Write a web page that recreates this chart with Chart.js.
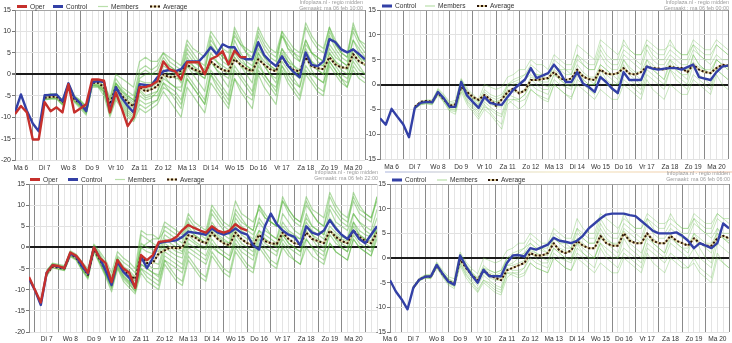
<!DOCTYPE html>
<html>
<head>
<meta charset="utf-8">
<script src="https://cdn.jsdelivr.net/npm/chart.js@4.4.1/dist/chart.umd.min.js"></script>
<style>
  html, body { margin: 0; padding: 0; background: #fff; width: 732px; height: 343px; overflow: hidden; }
  body { position: relative; }
  canvas { position: absolute; }
</style>
</head>
<body>
<canvas id="runA" width="372" height="172" style="left:0;top:0"></canvas>
<canvas id="runB" width="368" height="172" style="left:364px;top:0"></canvas>
<canvas id="runC" width="380" height="173" style="left:0;top:170px"></canvas>
<canvas id="runD" width="360" height="173" style="left:372px;top:170px"></canvas>
<script>
// ---------- axis labels ----------
const dayLabels = ['Ma 6','Di 7','Wo 8','Do 9','Vr 10','Za 11','Zo 12','Ma 13','Di 14','Wo 15','Do 16','Vr 17','Za 18','Zo 19','Ma 20','Di 21'];
const stepHours = 6;          // time step of every series
const memberStartHour = 36;   // ensemble members and mean start at Di 7 12:00

// ---------- run A: 10:00 run (oper, control, 12 members) ----------
const runAStart = 6;
const runAOper = [-9.3,-7.4,-8.9,-15.2,-15.2,-6.5,-8.6,-7.7,-8.9,-2.3,
  -8.9,-8.0,-7.0,-1.2,-1.2,-1.5,-8.9,-4.2,-8.0,-12.1,
  -10.0,-3.0,-3.0,-2.5,-1.6,3.0,1.2,0.7,-1.2,2.8,
  2.8,2.8,0.0,3.5,4.2,5.4,2.3,5.5,4.0,4.0];
const runAControl = [-8.9,-4.7,-8.5,-11.5,-13.3,-4.9,-4.8,-4.7,-6.3,-2.1,
  -5.4,-6.8,-8.6,-1.9,-1.6,-1.8,-8.6,-3.0,-5.5,-7.4,
  -8.9,-2.3,-2.5,-2.6,-0.7,0.7,1.0,0.7,1.2,3.0,
  3.0,3.0,4.5,6.3,4.7,7.0,6.3,6.3,4.0,3.5,
  3.5,7.5,4.5,3.0,1.9,4.2,2.0,0.5,-0.7,5.1,
  2.2,1.9,3.0,8.2,7.5,5.8,5.1,5.8,4.7,3.5];
const runAAverage = [-5.5,-5.3,-5.2,-6.5,-2.5,-5.8,-6.8,-8.0,-2.0,-2.0,
  -3.0,-7.0,-3.0,-5.0,-6.5,-7.5,-3.0,-4.0,-3.5,-2.8,
  0.0,-0.7,-0.5,1.0,2.3,1.2,0.7,0.2,3.0,1.9,
  1.0,0.7,3.5,2.3,1.3,0.7,3.5,2.3,1.2,0.7,
  4.2,2.0,1.0,0.7,4.0,1.9,1.4,1.2,4.0,2.3,
  1.6,1.5,4.7,3.0,2.3];
const runAMembers = [
  [-5,-4.5,-4.6,-6,-2,-5,-6,-7.5,-1.5,-1.5,-2,-6,-1,-3,-4,-5,1,2,1, 2,5,3,2,1,7,5,3,2,9,6,4,3,10,7,5,4,9,6,4,3,10,6,5,4,11,8,6,5,11,7,5,4,10,7,5],
  [-5.8,-5.6,-5.5,-7,-2.8,-6,-7,-8.5,-2.5,-2.5,-3.5,-8,-2,-4,-5,-6,-1,0,0, 0,3,2,1,0,5,3,2,1,7,5,3,2,8,5,3,2,6,4,3,2,9,6,4,3,8,5,4,3,9,6,4,3,8,6,4],
  [-5.2,-5,-5,-6.8,-3,-6.2,-7.5,-9,-2.5,-2.8,-4,-9,-5,-7,-9,-10,-6,-7,-6.5, -6,-3,-4,-5,-7,-1,-3,-5,-7,0,-2,-4,-6,1,-1,-3,-5,2,0,-2,-4,3,1,-1,-3,2,0,-1,-2,4,2,0,-1,3,1,0],
  [-6,-5.8,-5.8,-7.2,-3.2,-6.5,-8,-9.5,-3,-3,-5,-10,-6,-8,-10,-11,-8,-9,-8, -7,-4,-6,-8,-10,-3,-5,-7,-9,-2,-4,-6,-8,-1,-4,-6,-8,0,-3,-5,-7,1,-2,-4,-6,0,-2,-4,-5,2,0,-2,-3,1,-1,-2],
  [-5.5,-5.2,-5,-6.4,-2.4,-5.6,-6.6,-8,-1.8,-1.8,-2.8,-7,-2.5,-4.5,-6,-7,-2.5,-3.5,-3, -2,1,0,-1,-1,3,2,1,0,4,3,2,1,5,3,2,1,5,3,2,1,6,3,2,1,5,3,2,2,6,4,3,2,6,4,3],
  [-5.3,-5.4,-5.3,-6.6,-2.6,-5.7,-7,-8.2,-2.2,-2.1,-3.2,-7.5,-3.5,-5.5,-7,-8,-3.5,-5,-4.5, -4,-1,-2,-3,-3,2,1,0,-1,3,1,0,-1,4,2,1,0,4,2,0,-1,5,3,1,0,4,2,1,0,5,3,2,1,5,3,2],
  [-4.8,-4.8,-4.9,-6.1,-2.2,-5.3,-6.5,-7.8,-1.6,-1.7,-2.6,-6.5,-2,-3.5,-5,-6,0,1,0, 1,4,2,1,0,6,4,2,1,8,6,4,3,11,8,5,3,10,7,5,4,9,7,5,3,8,5,4,3,10,7,5,4,12,8,6],
  [-5.6,-5.5,-5.4,-6.7,-2.7,-5.9,-7.2,-8.6,-2.4,-2.4,-3.5,-8.2,-4,-6,-8,-9,-4,-5.5,-5, -5,-2,-3,-4,-6,0,-2,-4,-6,1,-1,-3,-5,2,0,-2,-4,3,0,-2,-3,2,0,-2,-3,4,1,-1,-2,3,1,-1,-2,4,2,0],
  [-5.4,-5.1,-5.1,-6.3,-2.3,-5.5,-6.4,-7.6,-1.7,-1.9,-2.7,-6.8,-2.2,-4,-5.5,-6.5,-1.5,-2,-2, -1,2,1,0,-2,4,2,0,-1,5,3,1,0,6,4,2,1,7,4,2,1,6,4,2,0,7,5,3,2,7,5,3,2,8,5,3],
  [-5.7,-5.4,-5.2,-6.6,-2.6,-6.1,-7.4,-8.8,-2.6,-2.6,-3.8,-8.5,-4.5,-6.5,-8.5,-9.5,-5,-6,-5.5, -4,0,-2,-3,-4,2,0,-2,-4,3,1,-1,-3,4,2,0,-2,5,2,0,-2,4,2,0,-1,6,3,1,0,5,3,1,0,6,4,2],
  [-5,-4.7,-4.8,-6.2,-2.1,-5.2,-6.2,-7.4,-1.4,-1.3,-1.8,-5.5,0,-1,-2,-3,3,4,3, 3,5,4,3,2,8,6,5,4,10,8,6,5,9,7,6,5,11,8,6,5,10,8,6,5,12,9,7,6,11,8,6,5,11,8,7],
  [-5.9,-5.7,-5.6,-7,-3,-6.3,-7.6,-9.2,-2.8,-2.9,-4.2,-9.5,-5.5,-7.5,-9.5,-10.5,-7,-8,-7, -6,-2,-4,-6,-8,-1,-3,-5,-7,0,-3,-5,-7,-1,-3,-5,-6,1,-1,-3,-5,2,-1,-3,-5,1,-1,-3,-4,3,1,-1,-3,2,0,-1]
];

// ---------- run B: 00:00 run (control, 10 members) ----------
const runBStart = 0;
const runBControl = [-6.8,-8.1,-4.9,-6.5,-8.0,-10.6,-4.7,-3.7,-3.5,-3.6,
  -1.5,-2.8,-4.5,-4.5,0.5,-2.2,-3.5,-4.7,-2.5,-3.7,
  -4.0,-4.1,-2.5,-1.0,0.0,1.0,3.3,1.3,1.8,2.3,
  4.0,2.5,0.5,0.5,2.5,0.2,-0.5,-1.5,1.5,0.5,
  -0.8,-1.7,2.5,0.9,0.9,0.9,3.6,3.2,3.0,3.2,
  3.3,3.3,3.0,3.5,4.0,1.5,1.2,0.9,2.5,3.6,
  3.8];
const runBAverage = [-4.5,-3.5,-3.3,-3.5,-1.7,-3.0,-4.3,-4.0,-0.5,-1.5,
  -2.5,-3.1,-2.1,-3.0,-4.3,-3.0,-1.5,-0.8,-1.8,-1.2,
  0.9,0.9,1.1,1.3,2.5,1.3,0.9,1.2,3.0,1.6,
  1.1,0.9,3.0,2.2,2.0,2.3,3.3,2.2,2.0,2.5,
  3.6,3.3,3.2,3.0,3.6,3.3,3.3,2.5,4.0,3.0,
  2.5,2.3,3.3,4.0,3.8];
const runBMembers = [
  [-4.5,-3.5,-3.2,-3.3,-1.0,-2.2,-3.8,-3.6,1.0,-1.2,-2.5,-3.5, -1,-2,-2.5,-2,0,1,1.5,2, 4,3,2,2,5,4,3,3,6,5,4,4,8,6,5,5,9,7,6,6,8,7,6,6,9,7,6,6,8,7,6,6,8,7,6],
  [-4.9,-4.0,-3.8,-4.0,-2.0,-3.5,-5.2,-5.5,-1.0,-3.5,-5,-6.5, -4,-5.5,-7,-8,-3,-4,-5,-4, -1,-2,-3,-3.5,0,-1,-2,-3,1,0,-1,-2,2,0,-1,-2,1,0,-1,-2,2,1,0,-1,3,1,0,-1,2,1,0,-1,3,2,1],
  [-4.6,-3.6,-3.4,-3.5,-1.4,-2.9,-4.3,-4.2,-0.2,-1.8,-2.8,-3.5, -2,-3,-3.5,-3,-1,-1.5,-1.5,-1, 1.5,1,0.5,0.5,3,2,1,1,4,2.5,1.5,1.5,4,3,2,2,5,3.5,2.5,2.5,5,4,3,3,5,4,3,3,4.5,3.5,3,3,5,4,3.5],
  [-4.4,-3.4,-3.1,-3.1,-0.8,-2,-3.5,-3.2,1.2,-0.8,-2,-3, 0,-0.5,-1,-0.5,1.5,2,3,3, 5,4,4,3,6,5,4,4,8,7,6,5,9,8,7,6,8,7,6,6,9,8,7,7,8,7,6,6,9,8,7,7,9,8,7],
  [-4.8,-3.9,-3.7,-3.8,-1.8,-3.2,-4.8,-5,-0.5,-2.8,-4.2,-5.5, -3.5,-4.5,-5.5,-6,-2,-2.5,-3,-2, 0,-1,-1.5,-2,1,0,-0.5,-1,2,1,0,0,3,1,0,0,2,1,0,-1,3,2,1,0,3,2,1,0,4,2,1,0,3,2,1],
  [-4.6,-3.6,-3.3,-3.4,-1.2,-2.5,-4,-3.9,0.8,-1.5,-2.8,-4, -1.5,-2.5,-3,-2.5,-0.5,0,0.5,1, 3,2,1.5,1,4,3,2,2,5,4,3,3,6,4,3,3,6,5,4,3,7,5,4,4,6,5,4,4,7,6,5,4,6,5,5],
  [-5,-4.1,-3.9,-4.1,-2.2,-3.6,-5.4,-6,-1.5,-4,-5.5,-7, -5,-6,-7.5,-9,-4,-3,-3,-2, 1,0,-1,-1,2,1,0,0,3,2,1,0,4,3,2,1,5,3,2,1,4,3,2,1,5,3,2,2,6,4,3,2,5,4,3],
  [-4.7,-3.7,-3.5,-3.7,-1.6,-3,-4.6,-4.7,0.2,-2.4,-3.8,-5, -3,-4,-4.5,-4.5,-1.5,-1,0,1, 2,1,0,-0.5,2,1,0,-0.5,3,1,0,0,3,2,1,0,4,2,1,0,5,3,2,1,4,3,2,1,6,4,3,2,5,4,3],
  [-4.5,-3.5,-3.3,-3.4,-1.3,-2.6,-4.1,-4,0.6,-1.7,-3,-4.2, -2,-3,-3.5,-3,0,0.5,1,2, 3,2,2,1,4,3,3,2,6,4,3,3,7,5,4,4,7,6,5,4,8,6,5,5,7,6,5,5,8,6,5,5,8,7,6],
  [-4.9,-4,-3.8,-3.9,-1.9,-3.4,-5,-5.2,-0.8,-3.2,-4.6,-6, -4.5,-5,-6,-6.5,-3,-3,-3.5,-3, -1,-2,-2.5,-3,0,-1,-2,-2.5,0,-1,-2,-3,-1,-2,-3,-3,0,-1,-2,-3,1,-1,-2,-3,0,-1,-2,-2,1,0,-1,-2,2,0,-1]
];

// ---------- run C: 22:00 run (oper, control, 12 members) ----------
const runCStart = 18;
const runCOper = [-7.0,-10.0,-13.0,-6.0,-4.2,-4.4,-4.9,-1.2,-2.0,-3.7,
  -6.0,0.0,-2.5,-3.7,-8.2,-3.0,-5.0,-6.0,-9.6,-1.8,
  -3.0,-1.8,1.3,1.5,1.7,2.5,4.1,5.3,4.6,4.0,
  3.5,5.0,4.0,3.5,4.0,5.5,4.5,4.0];
const runCControl = [-7.4,-10.1,-13.6,-6.0,-4.2,-4.6,-4.9,-1.5,-2.2,-4.5,
  -6.2,0.0,-2.5,-5.5,-8.9,-3.4,-5.8,-7.2,-9.3,-2.2,
  -4.9,-2.5,1.0,1.3,1.5,1.7,2.5,3.7,3.5,3.3,
  3.0,4.5,3.5,3.0,3.5,4.5,3.5,3.0,0.5,-0.5,
  5.0,8.0,5.5,4.0,3.0,2.5,0.5,5.0,3.5,3.0,
  4.0,6.5,4.5,3.0,2.0,4.0,2.0,1.0,3.0,5.0];
const runCAverage = [-6.2,-4.6,-4.8,-5.0,-1.5,-2.5,-4.5,-6.5,-0.5,-2.8,
  -5.5,-8.0,-3.0,-5.5,-6.5,-7.5,-2.0,-3.7,-3.7,-1.4,
  -0.7,0.0,-0.2,0.0,2.9,2.5,1.5,1.0,3.5,2.0,
  1.0,0.5,3.5,2.0,1.0,0.5,3.0,1.5,1.0,0.8,
  3.5,2.0,1.0,0.8,3.5,2.0,1.5,1.0,4.0,2.5,
  1.5,1.0,4.0,2.5,1.5,1.0,3.5];
const runCMembers = [
  [-5.5,-3.8,-4.2,-4.5,-1,-1.8,-3.8,-5.5,0.5,-1.5,-4,-7,-2,-3.5,-4.5,-6, 0,1,2,2,4,3,2,1,6,4,3,2,8,6,4,3,9,7,5,4,10,7,6,5,11,8,6,5,10,8,6,5,12,9,7,6,11,8,7,6,12],
  [-6.5,-4.6,-5,-5.3,-2,-2.8,-5.2,-7,-0.8,-3.5,-6.5,-9.5,-4.5,-7,-8.5,-10.5, -5,-7,-8,-9,-3,-5,-7,-8,-2,-4,-6,-7,-1,-3,-5,-6,0,-2,-4,-5,1,-1,-3,-4,0,-2,-3,-4,2,0,-2,-3,1,-1,-2,-3,2,0,-1,-2,3],
  [-6,-4.3,-4.6,-5,-1.5,-2.4,-4.6,-6.5,-0.3,-2.7,-5.2,-8,-3,-5.5,-6.8,-8, -2,-3,-3.5,-4,1,0,-1,-1.5,3,1.5,0.5,0,4,2.5,1.5,1,5,3,2,1.5,4,3,2,1,5,3.5,2.5,2,6,4,3,2,5,3.5,2.5,2,6,4,3,2.5,5],
  [-5.8,-4,-4.4,-4.7,-1.2,-2,-4.2,-6,0.3,-2,-4.5,-7.5,-2.5,-4.5,-5.5,-7, 3,2,1,0,5,4,3,2,7,5,4,3,9,7,5,4,8,6,5,4,10,8,6,5,12,9,7,6,11,8,6,5,10,8,6,5,13,10,8,7,12],
  [-6.3,-4.5,-4.9,-5.2,-1.8,-2.6,-5,-6.8,-0.6,-3.2,-6,-9,-4,-6.5,-8,-9.5, -4,-5,-6,-7,-2,-3,-4,-5,0,-1,-2,-3,1,-1,-2,-3,2,0,-1,-2,3,1,0,-1,2,0,-1,-2,4,2,0,-1,3,1,0,-1,4,2,1,0,5],
  [-6.1,-4.4,-4.7,-5,-1.6,-2.5,-4.8,-6.6,-0.5,-2.9,-5.6,-8.4,-3.2,-5.8,-7.2,-8.8, -3,-4,-5,-5,0,-1,-2,-2.5,2,1,0,-0.5,3,2,1,0,4,2,1,0.5,3,2,1,0.5,4,3,2,1,5,3,2,1,4,3,2,1.5,5,3,2,1.5,4],
  [-5.4,-3.7,-4,-4.3,-0.8,-1.6,-3.5,-5,0.8,-1,-3,-6,-1,-2.5,-3.5,-5, 4,3,3,2,6,5,4,3,8,6,5,4,10,8,6,5,11,8,7,6,9,7,6,5,11,9,7,6,12,9,8,7,13,10,8,7,12,9,8,7,11],
  [-6.8,-4.8,-5.2,-5.5,-2.2,-3,-5.5,-7.5,-1,-4,-7,-10.5,-5,-8,-9.5,-11, -6,-8,-9,-10,-4,-6,-8,-9,-3,-5,-7,-8,-2,-4,-6,-7,-1,-3,-5,-6,0,-2,-4,-5,1,-1,-3,-4,0,-2,-3,-4,1,-1,-2,-3,2,0,-1,-2,2],
  [-5.7,-4.1,-4.5,-4.8,-1.3,-2.1,-4.3,-6,0.2,-2.2,-4.8,-7.6,-2.6,-4.8,-6,-7.5, 1,0,-0.5,-1,3,2,1,0,4,3,2,1,6,4,3,2,7,5,4,3,6,4,3,2,8,6,4,3,7,5,4,3,9,6,5,4,8,6,5,4,9],
  [-6.2,-4.5,-4.8,-5.1,-1.7,-2.6,-4.9,-6.9,-0.7,-3.3,-6.2,-9.2,-4.2,-6.8,-8.2,-9.8, -4,-5,-6,-6.5,-1,-2,-3,-4,1,0,-1,-2,2,0,-1,-2,3,1,0,-1,4,2,1,0,3,1,0,-1,5,3,1,0,4,2,1,0,6,3,2,1,5],
  [-5.9,-4.2,-4.6,-4.9,-1.4,-2.3,-4.5,-6.3,0,-2.4,-5,-7.8,-2.8,-5.2,-6.5,-7.8, 0,-1,-1.5,-2,2,1,0,-1,5,3,2,1,5,3,2,1,6,4,3,2,7,5,3,2,6,4,3,2,8,5,4,3,7,5,3,2,8,6,4,3,7],
  [-6.4,-4.7,-5,-5.4,-1.9,-2.8,-5.3,-7.2,-0.9,-3.6,-6.6,-9.8,-4.8,-7.4,-8.8,-10.2, -5,-6,-7,-8,-3,-4,-5,-6,-1,-2,-3,-4,0,-1,-2,-3,1,-1,-2,-3,2,0,-1,-2,3,1,0,-1,2,0,-1,-2,4,2,0,-1,3,1,0,-1,4]
];

// ---------- run D: 06:00 run (control, 10 members) ----------
const runDStart = 12;
const runDControl = [-4.5,-6.8,-8.4,-10.4,-6.0,-4.4,-3.8,-3.7,-1.4,-3.2,
  -4.8,-5.4,0.5,-1.7,-3.5,-5.0,-2.4,-3.7,-3.7,-3.7,
  -1.0,0.5,0.6,0.3,2.0,1.7,2.2,2.7,4.1,3.5,
  3.3,3.0,3.5,4.5,6.0,7.0,8.0,8.8,9.0,9.0,
  9.0,8.7,8.5,7.5,6.5,5.5,5.0,5.0,5.0,5.2,
  4.5,3.5,2.0,3.0,2.5,2.0,3.0,7.0,6.0];
const runDAverage = [-6.0,-4.4,-3.8,-3.8,-1.5,-3.3,-4.7,-5.2,-0.3,-2.0,
  -3.5,-4.5,-2.5,-3.5,-4.0,-4.5,-2.5,-2.0,-1.5,-1.0,
  1.0,0.5,0.5,1.0,3.0,1.5,1.0,1.5,3.5,2.5,
  2.0,2.0,4.5,3.0,2.5,2.5,5.0,3.5,3.0,3.0,
  5.0,3.5,3.0,3.0,4.5,3.5,3.0,2.5,4.0,3.0,
  2.5,2.5,4.0,4.5,4.0];
const runDMembers = [
  [-5.8,-4.2,-3.5,-3.5,-1,-2.8,-4.2,-4.8,0.8,-1.2,-2.8,-4, -1.5,-2.5,-3,-2.5,0,1,1.5,2, 4,3,2,2,5,4,3,3,6,5,4,4,8,6,5,5,9,7,6,6,8,7,6,6,9,7,6,6,8,7,6,6,9,8,7],
  [-6.2,-4.6,-4,-4.1,-1.8,-3.7,-5.2,-5.8,-1.2,-3.5,-5,-6.8, -4.5,-5.5,-6.5,-7,-3,-3.5,-4,-3.5, -1,-2,-2.5,-3,0,-1,-2,-2.5,1,0,-1,-2,2,0,-1,-2,1,0,-1,-2,2,1,0,-1,1,0,-1,-2,0,-2,-3,-4,1,-1,-2],
  [-6,-4.4,-3.8,-3.8,-1.5,-3.3,-4.7,-5.2,-0.3,-2,-3.5,-4.5, -2.5,-3.5,-4,-4,-1.5,-1.5,-1,-0.5, 1.5,1,0.5,0.5,3,2,1.5,1,4,3,2,2,5,3.5,3,2.5,5.5,4,3,3,5,4,3,3,4.5,3.5,3,2.5,5,4,3,3,5,4,3.5],
  [-5.7,-4.1,-3.4,-3.3,-0.8,-2.5,-3.8,-4.2,1.2,-0.8,-2.2,-3.2, 0,-0.5,-1,-0.5,1.5,2,3,3, 5,4,3,3,6,5,4,4,8,6,5,5,9,8,7,6,8,7,6,6,9,8,7,7,8,7,6,6,9,8,7,7,9,8,8],
  [-6.1,-4.5,-3.9,-4,-1.7,-3.5,-5,-5.5,-0.8,-2.8,-4.3,-5.6, -3.5,-4.5,-5.5,-6,-2,-2.5,-2.5,-2, 0,-1,-1.5,-2,1,0,-0.5,-1,2,1,0,0,3,1,0,0,2,1,0,-1,3,2,1,0,3,2,1,0,2,0,-1,-2,3,2,1],
  [-5.9,-4.3,-3.7,-3.7,-1.3,-3,-4.4,-5,0.4,-1.6,-3.1,-4.2, -2,-2.5,-3,-2.5,-0.5,0,0.5,1, 3,2,1.5,1,4,3,2,2,5,4,3,3,6,4,3,3,6,5,4,3,7,5,4,4,6,5,4,4,7,6,5,4,6,5,5],
  [-6.3,-4.7,-4.1,-4.2,-2,-3.9,-5.5,-6.2,-1.6,-4,-5.6,-7, -5,-6,-7,-7.5,-4,-3,-3,-2, 1,0,-1,-1,2,1,0,0,3,2,1,0,4,3,2,1,5,3,2,1,4,3,2,1,5,3,2,2,4,2,0,-1,5,4,3],
  [-6,-4.4,-3.8,-3.9,-1.6,-3.4,-4.8,-5.4,0,-2.4,-3.9,-5, -3,-4,-4.5,-4.5,-1.5,-1,0,1, 2,1,0,-0.5,2,1,0,-0.5,3,1,0,0,3,2,1,0,4,2,1,0,5,3,2,1,4,3,2,1,5,3,2,1,6,4,3],
  [-5.8,-4.2,-3.6,-3.6,-1.2,-2.9,-4.3,-4.9,0.6,-1.4,-3,-4.3, -2,-3,-3.5,-3,0,0.5,1,2, 3,2,2,1,4,3,3,2,6,4,3,3,7,5,4,4,7,6,5,4,8,6,5,5,7,6,5,5,8,6,5,5,8,7,6],
  [-6.2,-4.6,-4,-4.1,-1.9,-3.6,-5.1,-5.7,-1,-3.2,-4.8,-6.3, -4.5,-5,-6,-6.5,-3,-3,-3.5,-3, -1,-2,-2.5,-3,0,-1,-2,-2.5,0,-1,-2,-3,-1,-2,-3,-3,0,-1,-2,-3,1,-1,-2,-3,0,-1,-2,-2,-1,-3,-4,-5,0,-1,-2]
];

// ---------- drawing ----------
const FONT = '"Liberation Sans", Arial, Helvetica, sans-serif';
const OPER_RED = '#c6302c';
const CONTROL_BLUE = '#3340a6';
const AVG_DOT = '#2a1407';
const AVG_BASE = '#dccb97';

function series(values, startHour) {
  return values.map((v, i) => ({ x: startHour + i * stepHours, y: v }));
}

// ticks every 6 hours; midnight lines dark, day names at noon
function sixHourTicks(scale) {
  const ticks = [];
  for (let h = Math.ceil(scale.min / stepHours) * stepHours; h <= scale.max; h += stepHours) ticks.push({ value: h });
  scale.ticks = ticks;
}

// legend row and source stamp for each panel
const panelDecor = {
  id: 'panelDecor',
  afterDraw(chart, args, o) {
    const ctx = chart.ctx;
    ctx.save();
    if (o.rule) {
      const g = ctx.createLinearGradient(o.rule.x0, 0, o.rule.x1, 0);
      g.addColorStop(0, '#aab4dc');
      g.addColorStop(0.5, '#f1e6b8');
      g.addColorStop(1, '#f0c2a6');
      ctx.strokeStyle = g;
      ctx.lineWidth = 1.2;
      ctx.beginPath();
      ctx.moveTo(o.rule.x0, o.rule.y);
      ctx.lineTo(o.rule.x1, o.rule.y);
      ctx.stroke();
    }
    ctx.font = '5.4px ' + FONT;
    ctx.fillStyle = '#9c9c9c';
    ctx.textAlign = 'right';
    ctx.textBaseline = 'middle';
    ctx.fillText(o.source, o.headerX, o.headerY);
    ctx.fillText(o.stamp, o.headerX, o.headerY + 6);

    ctx.font = '6.6px ' + FONT;
    ctx.fillStyle = '#333';
    ctx.textAlign = 'left';
    o.items.forEach(it => {
      const y = o.legendY;
      const x0 = it.x, x1 = it.x + 10;
      ctx.setLineDash([]);
      if (it.kind === 'avg') {
        ctx.strokeStyle = AVG_BASE; ctx.lineWidth = 2;
        ctx.beginPath(); ctx.moveTo(x0, y); ctx.lineTo(x1, y); ctx.stroke();
        ctx.setLineDash([2, 2]);
        ctx.strokeStyle = AVG_DOT;
      } else {
        ctx.strokeStyle = it.color;
        ctx.lineWidth = it.width;
      }
      ctx.beginPath(); ctx.moveTo(x0, y); ctx.lineTo(x1, y); ctx.stroke();
      ctx.setLineDash([]);
      ctx.fillText(it.label, x1 + 3, y + 0.5);
    });
    ctx.restore();
  }
};

function buildPanel(id, p) {
  const datasets = [];
  if (p.oper) {
    datasets.push({ label: 'Oper', data: series(p.oper, p.start), borderColor: OPER_RED, borderWidth: 2.4, order: 0 });
  }
  datasets.push({ label: 'Control', data: series(p.control, p.start), borderColor: CONTROL_BLUE, borderWidth: 2.4, order: 1 });
  datasets.push({ label: 'Average', data: series(p.average, memberStartHour), borderColor: AVG_DOT, borderWidth: 2, borderDash: [2, 2], order: 2 });
  datasets.push({ label: 'Average band', data: series(p.average, memberStartHour), borderColor: AVG_BASE, borderWidth: 2, order: 3 });
  p.members.forEach(m => {
    datasets.push({ label: 'Members', data: series(m, memberStartHour), borderColor: p.memberColor, borderWidth: p.memberWidth, order: 10 });
  });

  const legendItems = [];
  if (p.oper) legendItems.push({ label: 'Oper', color: OPER_RED, width: 3 });
  legendItems.push({ label: 'Control', color: CONTROL_BLUE, width: 3 });
  legendItems.push({ label: 'Members', color: '#b9dfaa', width: 1.2 });
  legendItems.push({ label: 'Average', kind: 'avg' });
  legendItems.forEach((it, k) => { it.x = p.legendX[k]; });

  return new Chart(document.getElementById(id), {
    type: 'line',
    data: { datasets },
    plugins: [panelDecor],
    options: {
      responsive: false,
      animation: false,
      events: [],
      layout: { padding: p.padding },
      elements: {
        point: { radius: 0 },
        line: { tension: 0, fill: false, borderJoinStyle: 'round', borderCapStyle: 'butt' }
      },
      plugins: {
        legend: { display: false },
        tooltip: { enabled: false },
        panelDecor: {
          source: 'Infoplaza.nl - regio midden',
          stamp: p.stamp,
          headerX: p.headerX, headerY: p.headerY,
          legendY: p.legendY,
          items: legendItems,
          rule: p.rule
        }
      },
      scales: {
        x: {
          type: 'linear',
          min: p.xMin, max: p.xMax,
          afterBuildTicks: sixHourTicks,
          afterFit: s => { s.height = p.xAxisHeight; },
          border: { display: false },
          grid: {
            drawTicks: false,
            color: c => (c.tick && c.tick.value % 24 === 0) ? '#8a8a8a' : '#e4e4e4',
            lineWidth: 1
          },
          ticks: {
            autoSkip: false, maxRotation: 0, padding: p.xLabelPad,
            color: '#333', font: { family: FONT, size: 6.6 },
            callback: v => (v % 24 === 12 && v < p.xMax) ? dayLabels[(v - 12) / 24] : ''
          }
        },
        y: {
          min: p.yMin, max: p.yMax,
          afterFit: s => { s.width = p.yAxisWidth; },
          border: { display: true, color: '#8a8a8a' },
          grid: {
            tickLength: 3,
            tickColor: '#777',
            color: c => c.tick.value === 0 ? '#1a1a1a' : (c.tick.value === p.yMax ? '#a4a4a4' : '#e2e2e2'),
            lineWidth: c => c.tick.value === 0 ? 2 : 1
          },
          ticks: { stepSize: 5, padding: 1, color: '#333', font: { family: FONT, size: 7 } }
        }
      }
    }
  });
}

buildPanel('runA', {
  start: runAStart, oper: runAOper, control: runAControl, average: runAAverage, members: runAMembers,
  memberColor: 'rgba(84,180,58,0.46)', memberWidth: 1.2,
  xMin: 6, xMax: 360, yMin: -20, yMax: 15,
  padding: { top: 10, right: 7, bottom: 0, left: 0 },
  yAxisWidth: 15, xAxisHeight: 12, xLabelPad: 4,
  legendY: 6.5, legendX: [17, 53, 98, 150],
  stamp: 'Gemaakt: ma 06 feb 10:00', headerX: 363, headerY: 3
});

buildPanel('runB', {
  start: runBStart, control: runBControl, average: runBAverage, members: runBMembers,
  memberColor: 'rgba(112,194,88,0.38)', memberWidth: 1,
  xMin: 0, xMax: 360, yMin: -15, yMax: 15,
  padding: { top: 10, right: 0, bottom: 0, left: 0 },
  yAxisWidth: 16, xAxisHeight: 13, xLabelPad: 4,
  legendY: 6, legendX: [18, 61, 113],
  stamp: 'Gemaakt : ma 06 feb 00:00', headerX: 365, headerY: 3
});

buildPanel('runC', {
  start: runCStart, oper: runCOper, control: runCControl, average: runCAverage, members: runCMembers,
  memberColor: 'rgba(84,180,58,0.46)', memberWidth: 1.2,
  xMin: 18, xMax: 372, yMin: -20, yMax: 15,
  padding: { top: 14, right: 3, bottom: 0, left: 0 },
  yAxisWidth: 29, xAxisHeight: 11, xLabelPad: 3,
  legendY: 9.5, legendX: [30, 68, 115, 167],
  stamp: 'Gemaakt: ma 06 feb 22:00', headerX: 378, headerY: 3
});

buildPanel('runD', {
  start: runDStart, control: runDControl, average: runDAverage, members: runDMembers,
  memberColor: 'rgba(112,194,88,0.38)', memberWidth: 1,
  xMin: 12, xMax: 360, yMin: -15, yMax: 15,
  padding: { top: 14, right: 0, bottom: 0, left: 0 },
  yAxisWidth: 18, xAxisHeight: 11, xLabelPad: 3,
  legendY: 10, legendX: [20, 65, 116],
  stamp: 'Gemaakt: ma 06 feb 06:00', headerX: 358, headerY: 4,
  rule: { x0: 13, x1: 360, y: 2 }
});
</script>
</body>
</html>
